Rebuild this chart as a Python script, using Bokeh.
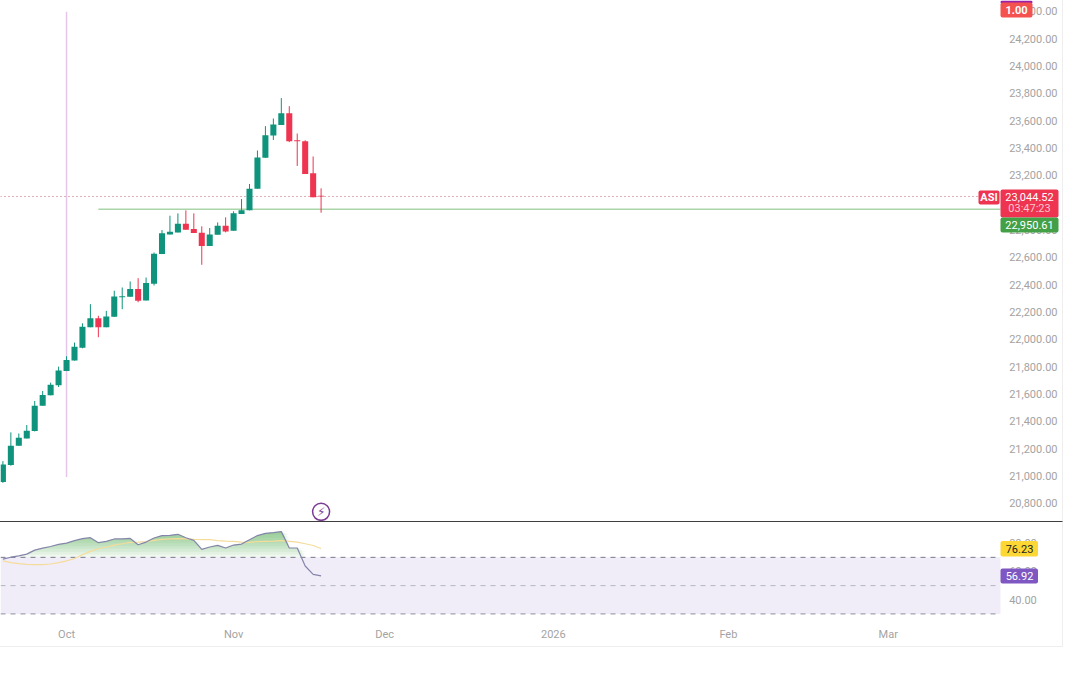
from bokeh.plotting import figure
from bokeh.layouts import column
from bokeh.models import Range1d, FixedTicker, NumeralTickFormatter, Label, BoxAnnotation
from bokeh.core.properties import value
from bokeh.embed import file_html
from bokeh.resources import INLINE
import numpy as np

opens = [20957,21080,21221,21275,21329,21514,21590,21663,21769,21844,21939,22088,22154,22088,22164,22308,22311,22367,22284,22406,22623,22767,22782,22846,22806,22780,22682,22765,22831,22794,22916,22943,23102,23327,23491,23568,23654,23456,23449,23214,23050]
highs = [21109,21319,21311,21373,21549,21622,21683,21800,21876,21976,22117,22257,22172,22208,22355,22379,22423,22447,22452,22635,22799,22904,22921,22943,22921,22826,22814,22855,22892,22936,23026,23136,23381,23559,23615,23764,23705,23505,23456,23337,23104]
lows = [20950,21075,21221,21275,21326,21514,21590,21651,21769,21844,21934,22088,22015,22088,22164,22220,22311,22271,22284,22394,22623,22767,22782,22802,22777,22545,22682,22765,22782,22794,22916,22943,23102,23327,23458,23568,23442,23268,23209,23039,22926]
closes = [21084,21221,21280,21331,21514,21593,21668,21771,21849,21945,22091,22154,22088,22166,22313,22315,22367,22282,22411,22626,22775,22787,22846,22802,22777,22682,22767,22831,22789,22921,22943,23102,23329,23493,23571,23654,23449,23449,23209,23039,23044.52]
rsi = [68.7,70.1,71.1,72.3,75.1,76.5,77.7,79.2,80.1,81.8,83.2,83.9,80.4,81.3,83.0,83.0,83.4,78.9,80.8,83.7,85.4,85.6,86.3,83.9,82.0,75.6,77.3,78.5,76.6,78.7,79.4,82.5,85.4,87.0,87.5,88.2,76.6,76.6,63.9,58.0,56.92]
rsi_ma = [67.5,66.3,65.6,65.1,64.9,64.9,65.3,66.3,67.5,69.2,71.8,74.2,76.1,77.3,78.7,79.6,80.6,80.8,81.1,82.0,82.7,83.0,83.2,83.0,82.7,82.5,82.5,81.8,81.5,81.3,80.8,80.6,81.1,81.3,81.5,81.8,81.3,80.8,79.6,78.4,76.23]
price_ticks = [20800+200*k for k in range(19)]
rsi_ticks = [40, 60, 80]
date_ticks = [8, 29, 48, 69.2, 91.2, 111.3]
date_labels = ["Oct", "Nov", "Dec", "2026", "Feb", "Mar"]
last_price = 23044.52
level_price = 22950.61
level_start = 12
event_index = 8
event_top = 24395
event_bottom = 20993
bolt_index = 40
bolt_price = 20738
rsi_levels = [70, 50, 30]

GREEN = "#0f937c"
RED = "#ee3450"
TICK = "#a3a3a3"
FONT = "Roboto"
X0, X1 = -0.302, 133.33
PANE_END = 125.4        # where the plotting pane meets the price scale
AXIS_AT = 126.5

xs = np.arange(len(closes))
o, h, l, c = map(np.array, (opens, highs, lows, closes))
up = c >= o
colors = [GREEN if u else RED for u in up]


def style_axis(axis):
    axis.axis_line_color = None
    axis.major_tick_line_color = None
    axis.minor_tick_line_color = None
    axis.major_tick_out = 0
    axis.major_tick_in = 0
    axis.minor_tick_out = 0
    axis.minor_tick_in = 0
    axis.major_label_standoff = 0
    axis.major_label_text_color = TICK
    axis.major_label_text_font = FONT
    axis.major_label_text_font_size = "11px"


p = figure(width=1062, height=521, output_backend="svg", toolbar_location=None,
           x_range=Range1d(X0, X1), y_range=Range1d(20660, 24478),
           x_axis_location=None, y_axis_location="right",
           min_border_left=0, min_border_right=0, min_border_top=0, min_border_bottom=0,
           outline_line_color=None, background_fill_color="white")
p.grid.visible = False
ax = p.yaxis[0]
ax.ticker = FixedTicker(ticks=price_ticks)
ax.formatter = NumeralTickFormatter(format="0,0.00")
ax.fixed_location = AXIS_AT
style_axis(ax)

p.segment([event_index], [event_bottom], [event_index], [event_top], line_color="#e3c6ea", line_width=1.5)
p.line([X0, PANE_END], [last_price, last_price], line_color="#c9606f", line_dash=[1, 3], line_width=1)
p.segment([level_start], [level_price], [PANE_END], [level_price], line_color="#a9d5a9", line_width=1.5)
p.segment(xs, h, xs, l, line_color=colors, line_width=1)
p.vbar(xs, width=0.76, top=np.maximum(o, c), bottom=np.minimum(o, c), fill_color=colors, line_color=None)
p.scatter([bolt_index], [bolt_price], size=17, marker="circle", fill_color="white", line_color="#7a3b92", line_width=1.5)
p.text([bolt_index], [bolt_price], text=["\u26a1"], text_align="center", text_baseline="middle",
       text_color="#7a3b92", text_font=value("DejaVu Sans"), text_font_size="12px")


def badge(fig, left, right, top, bottom, fill):
    fig.add_layout(BoxAnnotation(left=left, right=right, top=top, bottom=bottom,
                                 left_units="canvas", right_units="canvas",
                                 top_units="canvas", bottom_units="canvas",
                                 fill_color=fill, fill_alpha=1, line_color=None,
                                 border_radius=2, level="overlay"))


def tag(fig, x, y, text, color, bold=False):
    fig.add_layout(Label(x=x, y=y, x_units="canvas", y_units="canvas", text=text, text_color=color,
                         text_font=FONT, text_font_size="11px", text_align="center",
                         text_baseline="middle", text_font_style="bold" if bold else "normal",
                         level="overlay"))


badge(p, 1000, 1032, 0, 3, "#9c1fa8")
badge(p, 1000, 1032, 2, 17, "#f4524f")
tag(p, 1016, 9.5, "1.00", "white", True)
badge(p, 978, 999, 190, 204, RED)
tag(p, 988.5, 197, "ASI", "white", True)
badge(p, 1000, 1058, 189, 217, RED)
tag(p, 1029, 196, f"{last_price:,.2f}", "white")
tag(p, 1029, 208, "03:47:23", "#f9c6cc")
badge(p, 1000, 1058, 217, 232, "#43a047")
tag(p, 1029, 224.5, f"{level_price:,.2f}", "white")

r = figure(width=1062, height=124, output_backend="svg", toolbar_location=None,
           x_range=p.x_range, y_range=Range1d(23.93, 94.65),
           y_axis_location="right",
           min_border_left=0, min_border_right=0, min_border_top=0, min_border_bottom=25,
           outline_line_color=None, background_fill_color="white")
r.grid.visible = False
ay = r.yaxis[0]
ay.ticker = FixedTicker(ticks=rsi_ticks)
ay.formatter = NumeralTickFormatter(format="0.00")
ay.fixed_location = AXIS_AT
style_axis(ay)
ab = r.xaxis[0]
ab.ticker = FixedTicker(ticks=date_ticks)
ab.major_label_overrides = dict(zip(date_ticks, date_labels))
style_axis(ab)
ab.major_label_standoff = 5

rsi_arr = np.array(rsi)
r.varea([X0, PANE_END], [rsi_levels[2]] * 2, [rsi_levels[0]] * 2, fill_color="#f0edf9")
for lev in range(70, 90, 2):
    r.varea(xs, np.full(len(xs), lev), np.maximum(lev, rsi_arr), fill_color="#4caf50", fill_alpha=0.085)
for lev, col in zip(rsi_levels, ("#77798a", "#b4b4c0", "#8f909e")):
    r.line([X0, PANE_END], [lev, lev], line_color=col, line_dash=[5, 5], line_width=1)
r.line(xs, rsi_ma, line_color="#f5dc9a", line_width=1.2)
r.line(xs, rsi, line_color="#8585aa", line_width=1.2)

badge(r, 1000, 1037.5, 18.5, 34, "#fdd835")
tag(r, 1019, 26, f"{rsi_ma[-1]:.2f}", "#222222")
badge(r, 1000, 1037.5, 46, 61, "#7e57c2")
tag(r, 1019, 53.5, f"{rsi[-1]:.2f}", "white")

p.styles = {"border-bottom": "1px solid #3f3f3f", "border-right": "1px solid #eeeeee", "box-sizing": "content-box"}
r.styles = {"border-bottom": "1px solid #eeeeee", "border-right": "1px solid #eeeeee", "box-sizing": "content-box"}

page = column(p, r, spacing=0)
open("out.html", "w").write(file_html(page, INLINE))
